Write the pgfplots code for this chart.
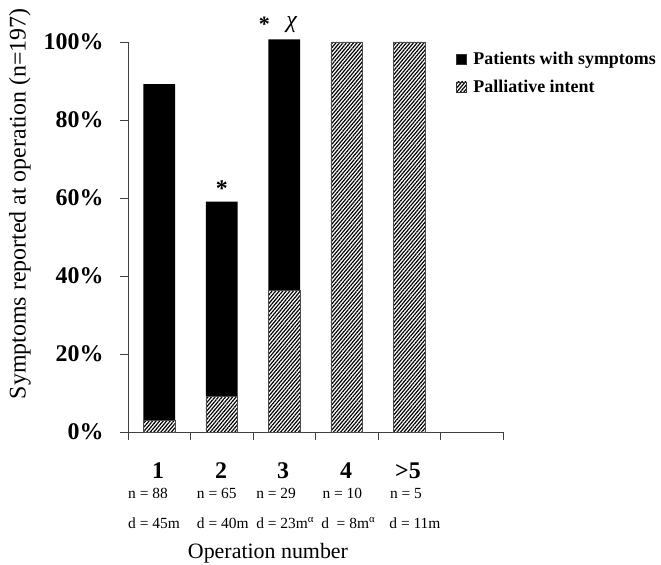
\documentclass[border=0pt]{standalone}
\usepackage{fontspec}
\setmainfont{Liberation Serif}
\usepackage{pgfplots}
\pgfplotsset{compat=1.18}
\usetikzlibrary{patterns.meta}
\begin{document}
\begin{tikzpicture}[x=1bp,y=1bp]
\begin{axis}[
  at={(0,0)}, anchor=south west,
  scale only axis, width=375bp, height=390bp,
  xmin=0, xmax=6, ymin=0, ymax=100,
  axis lines=left, axis line style={-, black!75, line width=0.8bp},
  xtick={0,1,...,6}, xticklabels={},
  ytick={0,20,...,100}, yticklabels={0\%,20\%,40\%,60\%,80\%,100\%},
  tick style={black!75, line width=0.8bp},
  tick align=outside, major tick length=8bp,
  yticklabel style={font=\fontsize{24}{24}\selectfont\bfseries, xshift=-13bp},
  ybar stacked, bar width=0.51,
  clip=false,
  legend image code/.code={\draw[#1,draw=black!80,line width=0.5bp] (0bp,-5bp) rectangle (10bp,5bp); \path (15bp,0bp);},
  reverse legend,
  legend style={at={(rel axis cs:0.874,0.98)}, anchor=north west, draw=none, fill=none,
    font=\fontsize{18}{18}\selectfont\bfseries, row sep=10bp, inner sep=0pt},
  legend cell align=left,
]
\addplot[draw=black!70, line width=0.6bp, pattern={Lines[angle=50,distance=2.7bp,line width=1.2bp]}]
  coordinates {(0.5,3.1) (1.5,9.2) (2.5,36.4) (3.5,100) (4.5,100)};
\addlegendentry{Palliative intent}
\addplot[fill=black, draw=none]
  coordinates {(0.5,86.1) (1.5,49.9) (2.5,64.3) (3.5,0) (4.5,0)};
\addlegendentry{Patients with symptoms}

% annotations
\node[font=\fontsize{24}{24}\selectfont\bfseries] at (axis cs:1.5,62.5) {*};
\node[font=\fontsize{22}{22}\selectfont\bfseries] at (axis cs:2.18,104.5) {*};
\node[font=\fontsize{24}{24}\selectfont\itshape] at (axis cs:2.62,104.5) {χ};

% category labels
\node[anchor=base, font=\fontsize{24}{24}\selectfont\bfseries, yshift=-46bp] at (axis cs:0.48,0) {1};
\node[anchor=base, font=\fontsize{24}{24}\selectfont\bfseries, yshift=-46bp] at (axis cs:1.49,0) {2};
\node[anchor=base, font=\fontsize{24}{24}\selectfont\bfseries, yshift=-46bp] at (axis cs:2.48,0) {3};
\node[anchor=base, font=\fontsize{24}{24}\selectfont\bfseries, yshift=-46bp] at (axis cs:3.49,0) {4};
\node[anchor=base, font=\fontsize{24}{24}\selectfont\bfseries, yshift=-46bp] at (axis cs:4.48,0) {>5};

\node[anchor=base west, inner sep=0pt, font=\fontsize{15.5}{15.5}\selectfont, yshift=-66bp] at (axis cs:0.0,0) {n = 88};
\node[anchor=base west, inner sep=0pt, font=\fontsize{15.5}{15.5}\selectfont, yshift=-66bp] at (axis cs:1.10,0) {n = 65};
\node[anchor=base west, inner sep=0pt, font=\fontsize{15.5}{15.5}\selectfont, yshift=-66bp] at (axis cs:2.05,0) {n = 29};
\node[anchor=base west, inner sep=0pt, font=\fontsize{15.5}{15.5}\selectfont, yshift=-66bp] at (axis cs:3.11,0) {n = 10};
\node[anchor=base west, inner sep=0pt, font=\fontsize{15.5}{15.5}\selectfont, yshift=-66bp] at (axis cs:4.19,0) {n = 5};

\node[anchor=base west, inner sep=0pt, font=\fontsize{15.5}{15.5}\selectfont, yshift=-96bp] at (axis cs:0.0,0) {d = 45m};
\node[anchor=base west, inner sep=0pt, font=\fontsize{15.5}{15.5}\selectfont, yshift=-96bp] at (axis cs:1.10,0) {d = 40m};
\node[anchor=base west, inner sep=0pt, font=\fontsize{15.5}{15.5}\selectfont, yshift=-96bp] at (axis cs:2.05,0) {d = 23m\textsuperscript{α}};
\node[anchor=base west, inner sep=0pt, font=\fontsize{15.5}{15.5}\selectfont, yshift=-96bp] at (axis cs:3.09,0) {d \ = 8m\textsuperscript{α}};
\node[anchor=base west, inner sep=0pt, font=\fontsize{15.5}{15.5}\selectfont, yshift=-96bp] at (axis cs:4.18,0) {d = 11m};

\node[anchor=base, font=\fontsize{22}{22}\selectfont, yshift=-126bp] at (axis cs:2.24,0) {Operation number};

\node[xshift=-108bp, rotate=90, font=\fontsize{24}{24}\selectfont] at (rel axis cs:0,0.585) {Symptoms reported at operation (n=197)};
\end{axis}
\pgfresetboundingbox
\useasboundingbox (-128bp,-133bp) rectangle (533bp,432bp);
\end{tikzpicture}
\end{document}
